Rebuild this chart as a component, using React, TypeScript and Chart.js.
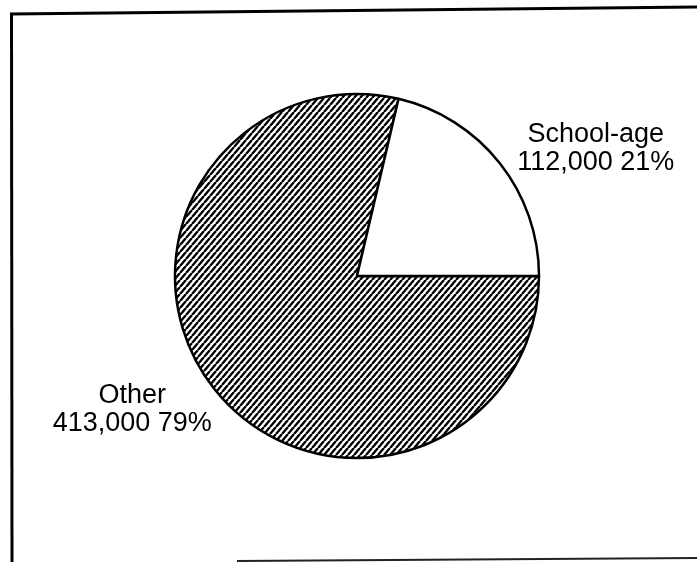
import { useEffect, useRef } from "react";
import { Chart, registerables } from "chart.js";

Chart.register(...registerables);

const categories = ["Other", "School-age"];
const values = [413000, 112000];

const LABEL_TILT = (9 * Math.PI) / 180;
const LABEL_GAP = 84;
const LABEL_NUDGE_X = 7;
const LABEL_NUDGE_Y = 3;
const LINE_GAP = 14;

function makeHatch(): CanvasPattern | string {
  const w = 6;
  const h = 7;
  const c = document.createElement("canvas");
  c.width = w;
  c.height = h;
  const g = c.getContext("2d");
  if (!g) return "#888";
  g.fillStyle = "#fff";
  g.fillRect(0, 0, w, h);
  g.strokeStyle = "#000";
  g.lineWidth = 2.4;
  g.beginPath();
  g.moveTo(0, h);
  g.lineTo(w, 0);
  g.moveTo(-w, h);
  g.lineTo(0, 0);
  g.moveTo(w, h);
  g.lineTo(2 * w, 0);
  g.stroke();
  const p = g.createPattern(c, "repeat");
  return p || "#888";
}

const framePlugin = {
  id: "frame",
  afterDraw(chart: any) {
    const ctx = chart.ctx as CanvasRenderingContext2D;
    ctx.save();
    ctx.strokeStyle = "#000";
    ctx.lineCap = "butt";
    ctx.lineWidth = 3;
    ctx.beginPath();
    ctx.moveTo(10, 14);
    ctx.lineTo(697, 7);
    ctx.stroke();
    ctx.beginPath();
    ctx.moveTo(11.5, 13);
    ctx.lineTo(12, 562);
    ctx.stroke();
    ctx.lineWidth = 2;
    ctx.strokeStyle = "#222";
    ctx.beginPath();
    ctx.moveTo(237, 561);
    ctx.lineTo(697, 558);
    ctx.stroke();
    ctx.restore();
  },
};

const labelPlugin = {
  id: "sliceLabels",
  afterDatasetsDraw(chart: any) {
    const ctx = chart.ctx as CanvasRenderingContext2D;
    const meta = chart.getDatasetMeta(0);
    const total = values.reduce((a, b) => a + b, 0);
    ctx.save();
    ctx.font = '27px "Liberation Sans", Arial, sans-serif';
    ctx.fillStyle = "#000";
    ctx.textAlign = "center";
    ctx.textBaseline = "middle";
    meta.data.forEach((arc: any, i: number) => {
      const { x, y, startAngle, endAngle, outerRadius } = arc.getProps(
        ["x", "y", "startAngle", "endAngle", "outerRadius"],
        true
      );
      const a = (startAngle + endAngle) / 2 + LABEL_TILT;
      const d = outerRadius + LABEL_GAP;
      const lx = x + d * Math.cos(a) + LABEL_NUDGE_X;
      const ly = y + d * Math.sin(a) + LABEL_NUDGE_Y;
      const pct = Math.round((values[i] / total) * 100);
      ctx.fillText(categories[i], lx, ly - LINE_GAP);
      ctx.fillText(`${values[i].toLocaleString("en-US")} ${pct}%`, lx, ly + LINE_GAP);
    });
    ctx.restore();
  },
};

export default function App() {
  const ref = useRef<HTMLCanvasElement | null>(null);

  useEffect(() => {
    document.body.style.margin = "0";
    const canvas = ref.current;
    if (!canvas) return;
    const hatch = makeHatch();
    const chart = new Chart(canvas, {
      type: "pie",
      data: {
        labels: categories,
        datasets: [
          {
            data: values,
            backgroundColor: [hatch as any, "#ffffff"],
            borderColor: "#000",
            borderWidth: 2.5,
          },
        ],
      },
      options: {
        animation: false,
        responsive: false,
        devicePixelRatio: 1,
        rotation: 90,
        radius: 182,
        layout: { padding: { left: 100, right: 83, top: 50, bottom: 60 } },
        plugins: {
          legend: { display: false },
          tooltip: { enabled: false },
        },
      },
      plugins: [labelPlugin, framePlugin],
    });
    return () => chart.destroy();
  }, []);

  return (
    <div style={{ position: "absolute", left: 0, top: 0, width: 697, height: 562, background: "#fff" }}>
      <canvas ref={ref} width={697} height={562} style={{ display: "block" }} />
    </div>
  );
}
